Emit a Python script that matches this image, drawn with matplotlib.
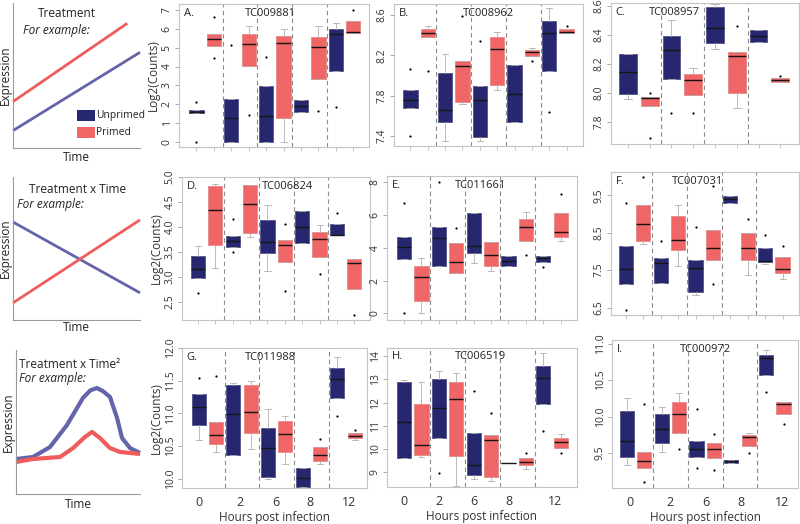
import matplotlib
matplotlib.use("Agg")
import matplotlib.pyplot as plt
from matplotlib.patches import Rectangle

plt.rcParams['font.family'] = ['Open Sans', 'DejaVu Sans']

# ---------------- data ----------------
hours = ["0", "2", "6", "8", "12"]
groups = ["Unprimed", "Primed"]

# schematic lines (arbitrary units, time 0-10, expression 0-10)
s1_time_red = [0, 9.0]
s1_red = [3.2, 8.6]
s1_time_blue = [0, 10]
s1_blue = [1.2, 6.6]

s2_time = [0, 10]
s2_blue = [6.85, 1.9]
s2_red = [1.2, 7.0]

s3_time_blue = [0, 1.37, 2.74, 4.11, 5.40, 6.00, 6.53, 7.0, 7.58, 8.15, 8.55, 9.19, 10.0]
s3_blue = [2.43, 2.57, 3.26, 4.79, 6.67, 7.20, 7.36, 7.15, 6.74, 5.28, 3.89, 3.19, 2.85]
s3_time_red = [0, 1.37, 3.55, 4.60, 5.56, 6.13, 6.77, 7.58, 8.39, 10.0]
s3_red = [2.22, 2.43, 2.57, 3.19, 3.96, 4.31, 3.89, 3.19, 2.92, 2.78]

# Panel A  TC009881  (order: U0,P0,U2,P2,U6,P6,U8,P8,U12,P12)
A_med = [1.60, 5.44, 1.29, 5.18, 1.40, 5.23, 1.91, 5.02, 5.71, 5.82]
A_q1 = [1.51, 5.11, 0.00, 4.04, 0.00, 1.29, 1.60, 3.32, 3.78, 5.76]
A_q3 = [1.68, 5.71, 2.30, 5.71, 2.96, 5.62, 2.22, 5.59, 5.98, 6.42]
A_lo = [1.51, 5.11, 0.00, 4.04, 0.00, 0.00, 1.60, 3.32, 3.78, 5.76]
A_hi = [1.68, 5.71, 2.30, 6.15, 2.96, 5.98, 2.22, 6.15, 6.30, 6.42]
A_out = [[2.13, 0.0], [6.65, 4.43], [5.14], [1.45], [4.52], [], [], [1.63], [1.86], [7.0]]

# Panel B  TC008962
B_med = [7.757, 8.425, 7.66, 8.09, 7.757, 8.26, 7.82, 8.23, 8.42, 8.43]
B_q1 = [7.681, 8.378, 7.54, 7.74, 7.39, 7.906, 7.54, 8.19, 8.04, 8.42]
B_q3 = [7.856, 8.464, 8.02, 8.14, 7.90, 8.38, 8.10, 8.25, 8.54, 8.46]
B_lo = [7.681, 8.378, 7.35, 7.72, 7.35, 7.856, 7.54, 8.19, 8.04, 8.42]
B_hi = [7.856, 8.49, 8.21, 8.14, 7.90, 8.43, 8.10, 8.276, 8.67, 8.46]
B_out = [[8.06, 7.40], [8.04], [], [8.59], [8.34], [], [], [8.14], [7.64], [8.49]]

# Panel C  TC008957 (four time points)
C_med = [8.145, 7.966, 8.30, 8.087, 8.448, 8.253, 8.395, 8.087]
C_q1 = [7.993, 7.913, 8.10, 7.984, 8.345, 8.00, 8.35, 8.076]
C_q3 = [8.271, 7.97, 8.395, 8.133, 8.593, 8.283, 8.432, 8.103]
C_lo = [7.96, 7.913, 8.10, 7.984, 8.306, 7.897, 8.35, 8.076]
C_hi = [8.271, 7.97, 8.50, 8.17, 8.61, 8.283, 8.432, 8.103]
C_out = [[], [8.0, 7.69], [7.86], [7.86], [], [8.464], [], [8.12]]

# Panel D  TC006824
D_med = [3.16, 4.33, 3.72, 4.46, 3.70, 3.64, 4.00, 3.75, 3.83, 3.29]
D_q1 = [2.99, 3.64, 3.60, 3.87, 3.47, 3.31, 3.67, 3.40, 3.83, 2.76]
D_q3 = [3.42, 4.82, 3.82, 4.84, 4.14, 3.73, 4.32, 3.89, 4.06, 3.36]
D_lo = [2.99, 3.19, 3.60, 3.80, 3.13, 3.31, 3.67, 3.40, 3.83, 2.76]
D_hi = [3.62, 4.86, 3.82, 4.84, 4.44, 3.73, 4.32, 4.03, 4.06, 3.36]
D_out = [[2.68], [], [4.16, 3.49], [], [], [4.05, 2.72], [], [3.06], [4.28], [2.25]]

# Panel E  TC011661
E_med = [4.02, 2.23, 4.56, 3.10, 4.10, 3.53, 3.18, 5.27, 3.35, 4.93]
E_q1 = [3.31, 0.77, 2.88, 2.47, 3.65, 2.90, 2.88, 4.42, 3.10, 4.62]
E_q3 = [4.67, 2.88, 5.27, 4.30, 6.13, 4.36, 3.49, 5.72, 3.49, 6.09]
E_lo = [3.31, 0.0, 2.88, 2.47, 3.04, 2.58, 2.88, 4.42, 3.10, 4.40]
E_hi = [4.67, 3.35, 5.27, 4.30, 6.13, 4.36, 3.49, 6.15, 3.49, 6.09]
E_out = [[6.69, 0.0], [], [8.0], [5.21], [], [], [], [3.55], [2.84], [7.26]]

# Panel F  TC007031
F_med = [7.54, 8.73, 7.68, 8.30, 7.56, 8.10, 9.39, 8.10, 7.75, 7.54]
F_q1 = [7.14, 8.27, 7.16, 8.03, 6.92, 7.78, 9.30, 7.76, 7.72, 7.41]
F_q3 = [8.15, 9.23, 7.83, 8.94, 7.76, 8.58, 9.48, 8.49, 8.10, 7.84]
F_lo = [7.14, 8.19, 7.16, 7.60, 6.83, 7.78, 9.30, 7.38, 7.65, 7.26]
F_hi = [8.15, 9.23, 7.83, 9.23, 7.76, 8.58, 9.48, 8.49, 8.10, 7.84]
F_out = [[9.30, 6.43], [9.99], [8.27], [], [8.65], [9.75, 7.12], [], [8.86], [8.45], [8.14]]

# Panel G  TC011988
G_med = [11.10, 10.67, 10.99, 11.02, 10.47, 10.69, 10.02, 10.36, 11.52, 10.66]
G_q1 = [10.83, 10.54, 10.37, 10.70, 10.03, 10.41, 9.87, 10.28, 11.24, 10.63]
G_q3 = [11.29, 10.87, 11.43, 11.43, 10.77, 10.88, 10.17, 10.48, 11.69, 10.70]
G_lo = [10.60, 10.41, 10.37, 10.45, 10.00, 10.23, 9.87, 10.23, 11.24, 10.60]
G_hi = [11.29, 10.87, 11.47, 11.50, 11.07, 10.96, 10.17, 10.48, 11.87, 10.70]
G_out = [[11.54], [11.57], [], [], [], [], [], [10.61], [10.96], [10.74]]

# Panel H  TC006519
H_med = [11.17, 10.16, 11.75, 12.16, 9.32, 10.38, 9.40, 9.43, 13.06, 10.28]
H_q1 = [9.61, 9.75, 10.45, 9.70, 8.88, 8.78, 9.40, 9.29, 11.93, 10.04]
H_q3 = [12.87, 11.94, 13.03, 12.91, 10.70, 10.59, 9.40, 9.61, 13.59, 10.45]
H_lo = [9.61, 9.65, 10.45, 8.40, 8.71, 8.59, 9.40, 9.14, 11.93, 10.04]
H_hi = [12.96, 12.87, 13.38, 13.28, 10.70, 10.59, 9.40, 9.61, 14.14, 10.62]
H_out = [[], [], [8.97], [], [12.51], [11.54], [], [9.80], [10.77], [9.80]]

# Panel I  TC000972
I_med = [9.67, 9.39, 9.83, 10.04, 9.56, 9.56, 9.39, 9.72, 10.80, 10.17]
I_q1 = [9.45, 9.30, 9.64, 9.78, 9.45, 9.43, 9.36, 9.60, 10.57, 10.03]
I_q3 = [10.08, 9.51, 10.04, 10.20, 9.67, 9.64, 9.40, 9.75, 10.85, 10.20]
I_lo = [9.34, 9.30, 9.51, 9.78, 9.45, 9.43, 9.36, 9.60, 10.57, 10.03]
I_hi = [10.26, 9.51, 10.13, 10.32, 9.67, 9.64, 9.40, 9.78, 10.91, 10.20]
I_out = [[], [10.17, 9.10], [], [9.56], [10.10, 9.30], [9.76, 9.27], [], [9.50], [10.34], [9.90]]

A_ticks = ["0", "1", "2", "3", "4", "5", "6", "7"]
B_ticks = ["7.4", "7.8", "8.2", "8.6"]
C_ticks = ["7.8", "8.0", "8.2", "8.4", "8.6"]
D_ticks = ["2.5", "3.0", "3.5", "4.0", "4.5", "5.0"]
E_ticks = ["0", "2", "4", "6", "8"]
F_ticks = ["6.5", "7.5", "8.5", "9.5"]
G_ticks = ["10.0", "10.5", "11.0", "11.5", "12.0"]
H_ticks = ["9", "10", "11", "12", "13", "14"]
I_ticks = ["9.5", "10.0", "10.5", "11.0"]

# ---------------- style ----------------
NAVY = "#27276f"
SALMON = "#f06565"
LINE_BLUE = "#6464ab"
LINE_RED = "#f05c5c"
FRAME = "#c4c4c4"
TXT = "#333333"

fig = plt.figure(figsize=(8, 5.24), dpi=100)


def px_axes(x0, y0, x1, y1):
    return fig.add_axes([x0 / 800, 1 - y1 / 524, (x1 - x0) / 800, (y1 - y0) / 524])


def schematic(ax, title, tpos, epos, labelpad_x):
    ax.set_xlim(0, 10)
    ax.set_ylim(0, 10)
    for s in ["top", "right"]:
        ax.spines[s].set_visible(False)
    for s in ["left", "bottom"]:
        ax.spines[s].set_color("#9a9a9a")
        ax.spines[s].set_linewidth(0.8)
    ax.set_xticks([])
    ax.set_yticks([])
    ax.set_xlabel("Time", fontsize=8.5, labelpad=labelpad_x, color="#222")
    ax.set_ylabel("Expression", fontsize=8.5, labelpad=1, color="#222")
    ax.text(tpos[0], tpos[1], title, transform=ax.transAxes, ha="center", va="center",
            fontsize=8.5, color="#222")
    ax.text(epos[0], epos[1], "For example:", transform=ax.transAxes, ha="left", va="center",
            fontsize=8.5, style="italic", color="#222")


# Row 1 schematic
ax = px_axes(13, 3, 140, 148)
schematic(ax, "Treatment", (0.425, 0.93), (0.08, 0.81), 2)
ax.plot(s1_time_red, s1_red, color=LINE_RED, lw=2.0, solid_capstyle="butt", clip_on=False)
ax.plot(s1_time_blue, s1_blue, color=LINE_BLUE, lw=2.0, solid_capstyle="butt", clip_on=False)
for i, (lab, col) in enumerate(zip(groups, [NAVY, SALMON])):
    y0 = 0.186 - i * 0.117
    ax.add_patch(Rectangle((0.504, y0), 0.142, 0.078, transform=ax.transAxes,
                           facecolor=col, edgecolor="none", clip_on=False))
    ax.text(0.655, y0 + 0.039, lab, transform=ax.transAxes, ha="left", va="center",
            fontsize=7.5, color="#222")

# Row 2 schematic
ax = px_axes(13, 177, 140, 320)
schematic(ax, "Treatment x Time", (0.51, 0.91), (0.03, 0.81), 1)
ax.plot(s2_time, s2_blue, color=LINE_BLUE, lw=2.0, solid_capstyle="butt", clip_on=False)
ax.plot(s2_time, s2_red, color=LINE_RED, lw=2.0, solid_capstyle="butt", clip_on=False)

# Row 3 schematic
ax = px_axes(16, 350, 140, 494)
schematic(ax, "Treatment x Time\u00b2", (0.435, 0.90), (0.024, 0.80), 3)
ax.plot(s3_time_blue, s3_blue, color=LINE_BLUE, lw=3.0, solid_capstyle="butt",
        solid_joinstyle="round", clip_on=False)
ax.plot(s3_time_red, s3_red, color=LINE_RED, lw=3.0, solid_capstyle="butt",
        solid_joinstyle="round", clip_on=False)


def box_panel(rect, med, q1, q3, lo, hi, out, yticks, ylim, xlim, letter, gene, gene_x,
              ylabel=False, xlab_pos=None):
    ax = px_axes(*rect)
    n = len(med)
    pos = list(range(1, n + 1))
    stats = []
    for m, a, b, l, h, f in zip(med, q1, q3, lo, hi, out):
        stats.append(dict(med=m, q1=a, q3=b, whislo=l, whishi=h, fliers=f))
    bp = ax.bxp(stats, positions=pos, widths=0.82, patch_artist=True, showfliers=True,
                capwidths=0.35,
                boxprops=dict(linewidth=0.6),
                medianprops=dict(color="#151515", linewidth=1.0),
                whiskerprops=dict(color="#b0b0b0", linewidth=0.6),
                capprops=dict(color="#b0b0b0", linewidth=0.6),
                flierprops=dict(marker="o", markersize=1.6, markeredgewidth=0,
                                markerfacecolor="black", linestyle="none"))
    cols = [NAVY, SALMON] * (n // 2)
    edges = ["#55558a", "#e48a8a"] * (n // 2)
    for p, c, e in zip(bp["boxes"], cols, edges):
        p.set_facecolor(c)
        p.set_edgecolor(e)
    for k in range(2, n, 2):
        ax.axvline(k + 0.5, color="#8a8a8a", lw=0.8, ls=(0, (4, 3)), zorder=0)
    ax.set_xlim(*xlim)
    ax.set_ylim(*ylim)
    yv = [float(t) for t in yticks]
    ax.set_yticks(yv)
    ax.set_yticklabels(yticks, rotation=90, va="center", fontsize=7.5, color=TXT)
    ax.tick_params(axis="y", length=3, width=0.6, color="#999", pad=1.5)
    if xlab_pos is None:
        ax.set_xticks(pos)
        ax.set_xticklabels([])
        ax.tick_params(axis="x", length=3, width=0.6, color="#bbbbbb")
    else:
        ax.set_xticks(xlab_pos)
        ax.set_xticklabels(hours, fontsize=9, color=TXT)
        ax.tick_params(axis="x", length=0, pad=6)
        ax.set_xlabel("Hours post infection", fontsize=8.5, color=TXT, labelpad=1)
    for s in ax.spines.values():
        s.set_color(FRAME)
        s.set_linewidth(0.8)
    if ylabel:
        ax.set_ylabel("Log2(Counts)", fontsize=8.5, color=TXT, labelpad=1)
    ax.text(0.025, 0.975, letter, transform=ax.transAxes, ha="left", va="top",
            fontsize=8, color="#222")
    ax.text(gene_x, 0.975, gene, transform=ax.transAxes, ha="center", va="top",
            fontsize=8, color="#222")
    return ax


box_panel((179, 4, 369, 147), A_med, A_q1, A_q3, A_lo, A_hi, A_out, A_ticks,
          (-0.27, 7.32), (0.0, 10.9), "A.", "TC009881", 0.48, ylabel=True)
box_panel((394, 4, 583, 146), B_med, B_q1, B_q3, B_lo, B_hi, B_out, B_ticks,
          (7.30, 8.71), (0.05, 10.95), "B.", "TC008962", 0.5)
box_panel((611, 3, 799, 144), C_med, C_q1, C_q3, C_lo, C_hi, C_out, C_ticks,
          (7.65, 8.62), (0.22, 8.86), "C.", "TC008957", 0.34)
box_panel((182, 177, 370, 320), D_med, D_q1, D_q3, D_lo, D_hi, D_out, D_ticks,
          (2.14, 5.0), (0.08, 10.9), "D.", "TC006824", 0.56, ylabel=True)
box_panel((387, 176, 577, 320), E_med, E_q1, E_q3, E_lo, E_hi, E_out, E_ticks,
          (-0.4, 8.36), (0.02, 10.94), "E.", "TC011661", 0.49)
box_panel((611, 172, 799, 315), F_med, F_q1, F_q3, F_lo, F_hi, F_out, F_ticks,
          (6.3, 10.12), (0.15, 10.94), "F.", "TC007031", 0.46)
box_panel((182, 348, 367, 488), G_med, G_q1, G_q3, G_lo, G_hi, G_out, G_ticks,
          (9.86, 11.98), (0.04, 10.71), "G.", "TC011988", 0.48, ylabel=True,
          xlab_pos=[1.0, 3.4, 5.45, 7.4, 9.7])
box_panel((387, 348, 577, 487), H_med, H_q1, H_q3, H_lo, H_hi, H_out, H_ticks,
          (8.35, 14.36), (0.02, 10.94), "H.", "TC006519", 0.49,
          xlab_pos=[1.0, 3.0, 5.0, 7.0, 9.65])
box_panel((612, 340, 798, 488), I_med, I_q1, I_q3, I_lo, I_hi, I_out, I_ticks,
          (9.02, 11.05), (0.14, 10.83), "I.", "TC000972", 0.5,
          xlab_pos=[1.15, 3.5, 5.55, 7.55, 9.9])

fig.savefig("out.png", dpi=100)
